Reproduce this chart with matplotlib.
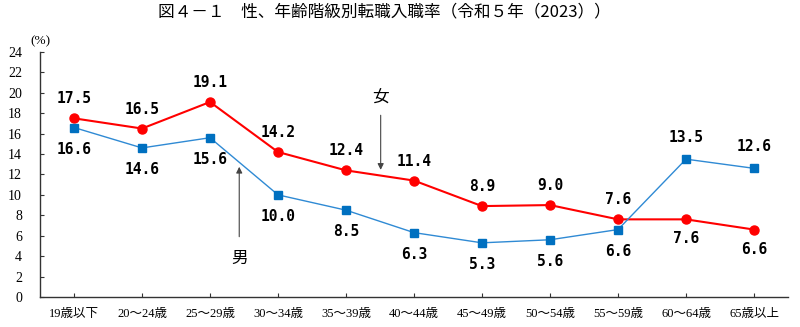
import matplotlib
matplotlib.use("Agg")
import matplotlib.pyplot as plt

# data
ages = ["19歳以下", "20～24歳", "25～29歳", "30～34歳", "35～39歳", "40～44歳",
        "45～49歳", "50～54歳", "55～59歳", "60～64歳", "65歳以上"]
female = [17.5, 16.5, 19.1, 14.2, 12.4, 11.4, 8.9, 9.0, 7.6, 7.6, 6.6]
male = [16.6, 14.6, 15.6, 10.0, 8.5, 6.3, 5.3, 5.6, 6.6, 13.5, 12.6]
# label above (+1) or below (-1) the point
female_side = [1, 1, 1, 1, 1, 1, 1, 1, 1, -1, -1]
male_side = [-1, -1, -1, -1, -1, -1, -1, -1, -1, 1, 1]

serif = ["Liberation Serif", "Noto Sans CJK JP"]
label_font = dict(family=["DejaVu Sans Mono", "Noto Sans CJK JP"], weight="bold", fontsize=10.5)

fig = plt.figure(figsize=(8, 3.27), dpi=100)
ax = fig.add_axes([0.05, 0.092, 0.935, 0.749])

x = list(range(len(ages)))
ax.plot(x, female, color="#ff0000", lw=1.5, marker="o", ms=6.5, zorder=3)
ax.plot(x, male, color="#2f8ad4", lw=1.0, marker="s", ms=6, mfc="#0070c0", mec="#0070c0", zorder=3)

for i in x:
    ax.annotate(f"{female[i]:.1f}", (i, female[i]), xytext=(0, 14 * female_side[i]),
                textcoords="offset points", ha="center", va="center", **label_font)
    ax.annotate(f"{male[i]:.1f}", (i, male[i]), xytext=(0, 15.5 * male_side[i]),
                textcoords="offset points", ha="center", va="center", **label_font)

# arrows for sex labels
arrow = dict(arrowstyle="-|>", color="#444444", lw=0.8, mutation_scale=9, shrinkA=0, shrinkB=0)
ax.annotate("", xy=(4.51, 12.45), xytext=(4.51, 17.8), arrowprops=arrow)
ax.text(4.51, 19.5, "女", ha="center", va="center", fontsize=12, family="Noto Sans CJK JP")
ax.annotate("", xy=(2.43, 12.75), xytext=(2.43, 5.9), arrowprops=arrow)
ax.text(2.43, 3.8, "男", ha="center", va="center", fontsize=12, family="Noto Sans CJK JP")

ax.set_xlim(-0.5, 10.5)
ax.set_ylim(0, 24)
ax.set_yticks(range(0, 25, 2))
ax.set_xticks(x)
ax.set_xticklabels(ages, family=serif, fontsize=9)
for t in ax.get_yticklabels():
    t.set_family(serif)
    t.set_fontsize(10)
ax.tick_params(direction="in", length=3, width=0.8, color="#333333", pad=8)
ax.tick_params(axis="y", pad=13)
ax.spines["top"].set_visible(False)
ax.spines["right"].set_visible(False)
for s in ("left", "bottom"):
    ax.spines[s].set_color("#333333")
    ax.spines[s].set_linewidth(1.0)

ax.text(0.0, 1.02, "(%)", transform=ax.transAxes, ha="center", va="bottom",
        family=serif, fontsize=9.5)
fig.text(0.48, 0.963, "図４－１　性、年齢階級別転職入職率（令和５年（2023））",
         ha="center", va="center", fontsize=12, family=["Noto Sans CJK JP"])

fig.savefig("out.png", dpi=100)
